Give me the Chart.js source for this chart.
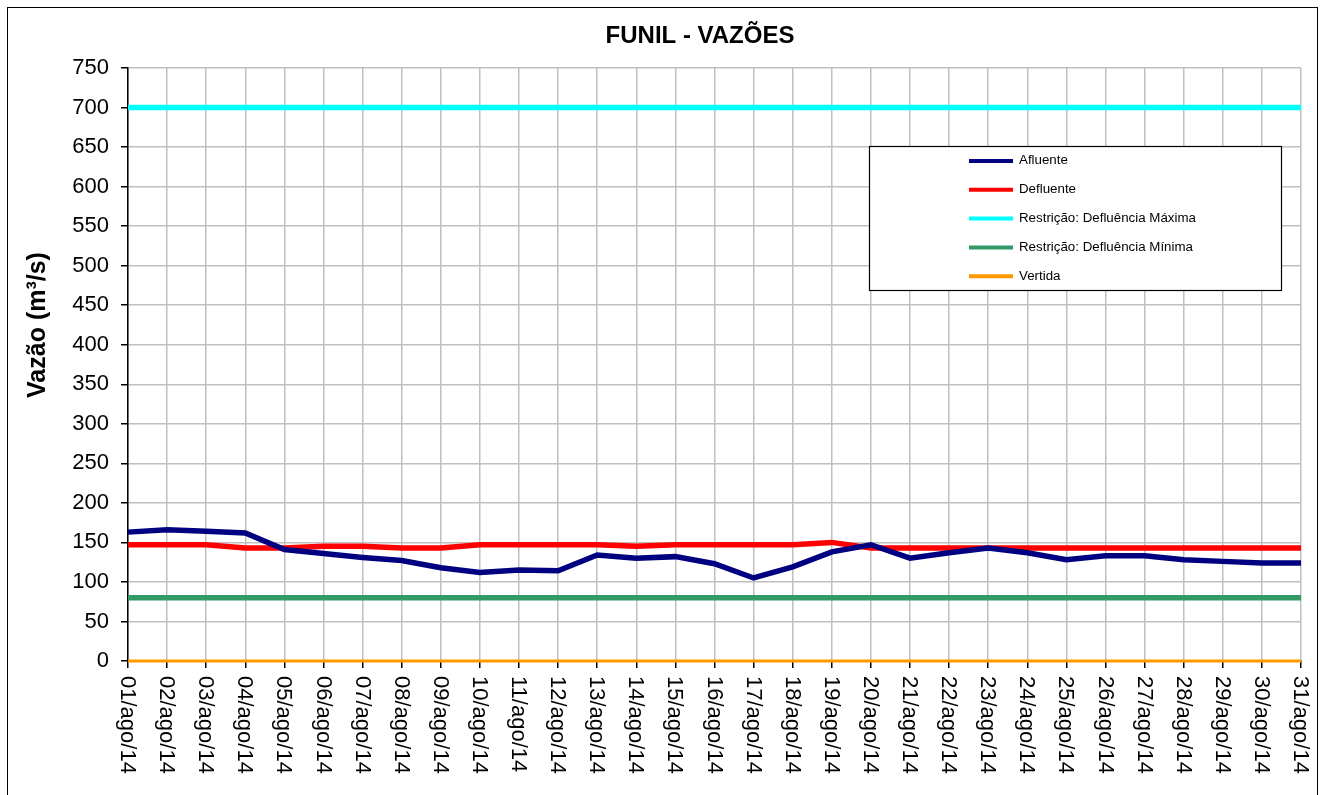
<!DOCTYPE html>
<html>
    <head>
        <meta charset="UTF-8">
        <title>Funil - Vazões</title>
        <script src="https://cdn.jsdelivr.net/npm/chart.js"></script>
        <style>
            body { margin: 0; background: #fff; }
            canvas { display: block; }
        </style>
    </head>
    <body>
        <canvas id="chartVazoes" width="1325" height="795"></canvas>
        <script>
            const days = ["01/ago/14", "02/ago/14", "03/ago/14", "04/ago/14", "05/ago/14", "06/ago/14", "07/ago/14", "08/ago/14",
                "09/ago/14", "10/ago/14", "11/ago/14", "12/ago/14", "13/ago/14", "14/ago/14", "15/ago/14", "16/ago/14",
                "17/ago/14", "18/ago/14", "19/ago/14", "20/ago/14", "21/ago/14", "22/ago/14", "23/ago/14", "24/ago/14",
                "25/ago/14", "26/ago/14", "27/ago/14", "28/ago/14", "29/ago/14", "30/ago/14", "31/ago/14"];

            const afluente = [163, 166, 164, 162, 141, 136, 131, 127, 118, 112, 115, 114, 134, 130, 132, 123,
                105, 119, 138, 147, 130, 137, 143, 137, 128, 133, 133, 128, 126, 124, 124];
            const defluente = [147, 147, 147, 143, 143, 145, 145, 143, 143, 147, 147, 147, 147, 145, 147, 147,
                147, 147, 150, 143, 143, 143, 143, 143, 143, 143, 143, 143, 143, 143, 143];
            const defluenciaMaxima = [700, 700, 700, 700, 700, 700, 700, 700, 700, 700, 700, 700, 700, 700, 700, 700,
                700, 700, 700, 700, 700, 700, 700, 700, 700, 700, 700, 700, 700, 700, 700];
            const defluenciaMinima = [80, 80, 80, 80, 80, 80, 80, 80, 80, 80, 80, 80, 80, 80, 80, 80,
                80, 80, 80, 80, 80, 80, 80, 80, 80, 80, 80, 80, 80, 80, 80];
            const vertida = [0, 0, 0, 0, 0, 0, 0, 0, 0, 0, 0, 0, 0, 0, 0, 0,
                0, 0, 0, 0, 0, 0, 0, 0, 0, 0, 0, 0, 0, 0, 0];

            const yTicks = { min: 0, max: 750, step: 50 };
            const chartTitle = "FUNIL - VAZÕES";
            const yTitle = "Vazão (m³/s)";

            const FONT = "'Liberation Sans', Arial, sans-serif";

            // white background + outer frame
            const framePlugin = {
                id: 'frame',
                beforeDraw(chart) {
                    const ctx = chart.ctx;
                    ctx.save();
                    ctx.fillStyle = '#fff';
                    ctx.fillRect(0, 0, chart.width, chart.height);
                    ctx.strokeStyle = '#000';
                    ctx.lineWidth = 1;
                    ctx.strokeRect(7.5, 7.5, 1310, 800);
                    ctx.restore();
                }
            };

            // titles, rotated day labels and the boxed legend
            const decorPlugin = {
                id: 'decor',
                afterDraw(chart) {
                    const ctx = chart.ctx;
                    const xScale = chart.scales.x;
                    ctx.save();

                    ctx.fillStyle = '#000';
                    ctx.font = "bold 24px " + FONT;
                    ctx.textAlign = 'center';
                    ctx.textBaseline = 'middle';
                    ctx.fillText(chartTitle, 700, 36);

                    ctx.save();
                    ctx.translate(38, 325);
                    ctx.rotate(-Math.PI / 2);
                    ctx.font = "bold 25px " + FONT;
                    ctx.fillText(yTitle, 0, 0);
                    ctx.restore();

                    // x labels, turned clockwise
                    ctx.font = "22px " + FONT;
                    ctx.textAlign = 'left';
                    ctx.textBaseline = 'alphabetic';
                    xScale.ticks.forEach((t, i) => {
                        const px = xScale.getPixelForTick(i);
                        ctx.save();
                        ctx.translate(px, 676);
                        ctx.rotate(Math.PI / 2);
                        ctx.fillText(days[i], 0, 7);
                        ctx.restore();
                    });

                    // legend box
                    ctx.fillStyle = '#fff';
                    ctx.fillRect(869, 146, 412, 144);
                    ctx.strokeStyle = '#000';
                    ctx.lineWidth = 1.2;
                    ctx.strokeRect(869.5, 146.5, 412, 144);

                    ctx.font = "12px " + FONT;
                    ctx.textBaseline = 'middle';
                    chart.data.datasets.forEach((ds, i) => {
                        const y = 161 + i * 28.8;
                        ctx.strokeStyle = ds.borderColor;
                        ctx.lineWidth = 4;
                        ctx.beginPath();
                        ctx.moveTo(969, y);
                        ctx.lineTo(1013, y);
                        ctx.stroke();
                        ctx.fillStyle = '#000';
                        ctx.save();
                        ctx.translate(1019, y);
                        ctx.scale(1.11, 1);
                        ctx.fillText(ds.label, 0, 0);
                        ctx.restore();
                    });

                    ctx.restore();
                }
            };

            const ctx = document.getElementById('chartVazoes');

            new Chart(ctx, {
                type: 'line',
                data: {
                    labels: days,
                    datasets: [
                        { label: 'Afluente', data: afluente, borderColor: '#000080', borderWidth: 5.5 },
                        { label: 'Defluente', data: defluente, borderColor: '#FF0000', borderWidth: 5.5 },
                        { label: 'Restrição: Defluência Máxima', data: defluenciaMaxima, borderColor: '#00FFFF', borderWidth: 5.5 },
                        { label: 'Restrição: Defluência Mínima', data: defluenciaMinima, borderColor: '#339966', borderWidth: 5.5 },
                        { label: 'Vertida', data: vertida, borderColor: '#FF9900', borderWidth: 3 }
                    ]
                },
                options: {
                    responsive: false,
                    animation: false,
                    layout: { padding: { top: 68, right: 24, left: 0, bottom: 0 } },
                    elements: {
                        point: { radius: 0 },
                        line: { tension: 0, borderCapStyle: 'butt' }
                    },
                    datasets: { line: { clip: false } },
                    plugins: {
                        legend: { display: false },
                        tooltip: { enabled: false }
                    },
                    scales: {
                        x: {
                            offset: false,
                            ticks: { display: false },
                            grid: { color: '#c0c0c0', lineWidth: 1.5, tickColor: '#000', tickLength: 7 },
                            border: { color: '#000', width: 1.5 },
                            afterFit(scale) { scale.height = 134; }
                        },
                        y: {
                            min: yTicks.min,
                            max: yTicks.max,
                            ticks: {
                                stepSize: yTicks.step,
                                color: '#000',
                                padding: 12,
                                font: { family: FONT, size: 22 }
                            },
                            grid: { color: '#c0c0c0', lineWidth: 1.5, tickColor: '#000', tickLength: 7 },
                            border: { color: '#000', width: 1.5 },
                            afterFit(scale) { scale.width = 128; }
                        }
                    }
                },
                plugins: [framePlugin, decorPlugin]
            });
        </script>
    </body>
</html>
